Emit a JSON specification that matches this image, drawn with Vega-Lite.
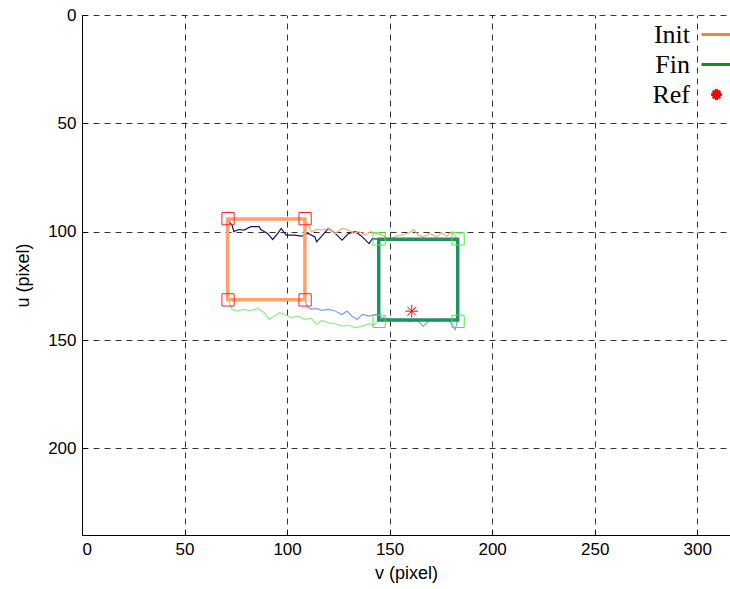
{
  "$schema": "https://vega.github.io/schema/vega-lite/v6.json",
  "width": 648,
  "height": 520,
  "autosize": {"type": "none"},
  "padding": {"left": 82, "top": 15, "right": 0, "bottom": 54},
  "background": "white",
  "config": {
    "view": {"stroke": null},
    "axis": {
      "domainColor": "black", "domainWidth": 1,
      "tickColor": "black", "tickSize": -5, "tickWidth": 1,
      "gridColor": "black", "gridDash": [6, 5], "gridWidth": 0.8, "gridOpacity": 1,
      "labelFont": "Liberation Sans", "labelFontSize": 17, "labelColor": "black",
      "titleFont": "Liberation Sans", "titleFontSize": 18, "titleFontWeight": "normal", "titleColor": "black"
    }
  },
  "datasets": {
    "traj": [
      {"s": "a", "i": 0, "v": 71.2, "u": 94.3},
      {"s": "a", "i": 1, "v": 71.6, "u": 95.4},
      {"s": "a", "i": 2, "v": 73.2, "u": 96.9},
      {"s": "a", "i": 3, "v": 74.0, "u": 100.0},
      {"s": "a", "i": 4, "v": 76.5, "u": 99.0},
      {"s": "a", "i": 5, "v": 79.0, "u": 99.3},
      {"s": "a", "i": 6, "v": 82.3, "u": 97.7},
      {"s": "a", "i": 7, "v": 86.4, "u": 97.7},
      {"s": "a", "i": 8, "v": 87.2, "u": 99.0},
      {"s": "a", "i": 9, "v": 90.5, "u": 100.8},
      {"s": "a", "i": 10, "v": 93.0, "u": 103.6},
      {"s": "a", "i": 11, "v": 95.5, "u": 100.8},
      {"s": "a", "i": 12, "v": 97.1, "u": 98.5},
      {"s": "a", "i": 13, "v": 99.6, "u": 101.6},
      {"s": "a", "i": 14, "v": 103.7, "u": 101.6},
      {"s": "a", "i": 15, "v": 107.0, "u": 102.1},
      {"s": "a", "i": 16, "v": 110.3, "u": 100.8},
      {"s": "a", "i": 17, "v": 113.6, "u": 102.4},
      {"s": "a", "i": 18, "v": 114.4, "u": 104.7},
      {"s": "a", "i": 19, "v": 116.9, "u": 102.1},
      {"s": "a", "i": 20, "v": 120.2, "u": 98.5},
      {"s": "a", "i": 21, "v": 123.5, "u": 100.8},
      {"s": "a", "i": 22, "v": 126.8, "u": 103.9},
      {"s": "a", "i": 23, "v": 130.1, "u": 100.8},
      {"s": "a", "i": 24, "v": 133.4, "u": 100.0},
      {"s": "a", "i": 25, "v": 136.7, "u": 102.4},
      {"s": "a", "i": 26, "v": 140.0, "u": 105.5},
      {"s": "a", "i": 27, "v": 141.6, "u": 103.2},
      {"s": "a", "i": 28, "v": 144.7, "u": 103.5},

      {"s": "b", "i": 0, "v": 108.7, "u": 94.2},
      {"s": "b", "i": 1, "v": 110.3, "u": 96.9},
      {"s": "b", "i": 2, "v": 111.9, "u": 100.0},
      {"s": "b", "i": 3, "v": 114.4, "u": 98.9},
      {"s": "b", "i": 4, "v": 116.9, "u": 99.3},
      {"s": "b", "i": 5, "v": 120.2, "u": 98.5},
      {"s": "b", "i": 6, "v": 123.5, "u": 100.8},
      {"s": "b", "i": 7, "v": 126.8, "u": 98.5},
      {"s": "b", "i": 8, "v": 130.1, "u": 99.3},
      {"s": "b", "i": 9, "v": 132.5, "u": 100.8},
      {"s": "b", "i": 10, "v": 135.0, "u": 100.0},
      {"s": "b", "i": 11, "v": 138.3, "u": 101.6},
      {"s": "b", "i": 12, "v": 140.8, "u": 100.0},
      {"s": "b", "i": 13, "v": 143.3, "u": 100.8},
      {"s": "b", "i": 14, "v": 146.6, "u": 101.6},
      {"s": "b", "i": 15, "v": 149.9, "u": 103.6},
      {"s": "b", "i": 16, "v": 153.2, "u": 102.1},
      {"s": "b", "i": 17, "v": 156.4, "u": 101.3},
      {"s": "b", "i": 18, "v": 159.7, "u": 100.5},
      {"s": "b", "i": 19, "v": 161.7, "u": 98.9},
      {"s": "b", "i": 20, "v": 163.9, "u": 101.6},
      {"s": "b", "i": 21, "v": 166.3, "u": 102.4},
      {"s": "b", "i": 22, "v": 169.6, "u": 100.8},
      {"s": "b", "i": 23, "v": 172.9, "u": 102.4},
      {"s": "b", "i": 24, "v": 175.4, "u": 100.5},
      {"s": "b", "i": 25, "v": 177.9, "u": 102.1},
      {"s": "b", "i": 26, "v": 180.3, "u": 100.0},
      {"s": "b", "i": 27, "v": 183.2, "u": 103.5},

      {"s": "c", "i": 0, "v": 71.2, "u": 131.4},
      {"s": "c", "i": 1, "v": 71.6, "u": 131.9},
      {"s": "c", "i": 2, "v": 73.2, "u": 135.9},
      {"s": "c", "i": 3, "v": 75.7, "u": 136.6},
      {"s": "c", "i": 4, "v": 79.0, "u": 135.9},
      {"s": "c", "i": 5, "v": 82.3, "u": 136.6},
      {"s": "c", "i": 6, "v": 85.6, "u": 135.4},
      {"s": "c", "i": 7, "v": 88.9, "u": 137.4},
      {"s": "c", "i": 8, "v": 91.3, "u": 140.5},
      {"s": "c", "i": 9, "v": 93.8, "u": 139.0},
      {"s": "c", "i": 10, "v": 96.3, "u": 137.4},
      {"s": "c", "i": 11, "v": 98.8, "u": 138.2},
      {"s": "c", "i": 12, "v": 102.1, "u": 139.7},
      {"s": "c", "i": 13, "v": 105.4, "u": 139.0},
      {"s": "c", "i": 14, "v": 108.7, "u": 140.5},
      {"s": "c", "i": 15, "v": 111.9, "u": 140.0},
      {"s": "c", "i": 16, "v": 114.4, "u": 142.9},
      {"s": "c", "i": 17, "v": 116.9, "u": 141.0},
      {"s": "c", "i": 18, "v": 120.2, "u": 142.1},
      {"s": "c", "i": 19, "v": 123.5, "u": 142.5},
      {"s": "c", "i": 20, "v": 126.8, "u": 143.6},
      {"s": "c", "i": 21, "v": 130.1, "u": 143.2},
      {"s": "c", "i": 22, "v": 133.4, "u": 144.4},
      {"s": "c", "i": 23, "v": 136.7, "u": 143.6},
      {"s": "c", "i": 24, "v": 140.0, "u": 142.5},
      {"s": "c", "i": 25, "v": 142.4, "u": 143.2},
      {"s": "c", "i": 26, "v": 144.7, "u": 140.8},

      {"s": "d", "i": 0, "v": 108.7, "u": 131.4},
      {"s": "d", "i": 1, "v": 110.0, "u": 134.8},
      {"s": "d", "i": 2, "v": 111.9, "u": 135.9},
      {"s": "d", "i": 3, "v": 114.4, "u": 135.4},
      {"s": "d", "i": 4, "v": 116.9, "u": 136.3},
      {"s": "d", "i": 5, "v": 120.2, "u": 135.9},
      {"s": "d", "i": 6, "v": 123.5, "u": 136.6},
      {"s": "d", "i": 7, "v": 126.8, "u": 138.2},
      {"s": "d", "i": 8, "v": 129.2, "u": 136.6},
      {"s": "d", "i": 9, "v": 131.7, "u": 139.0},
      {"s": "d", "i": 10, "v": 134.2, "u": 140.5},
      {"s": "d", "i": 11, "v": 136.7, "u": 138.2},
      {"s": "d", "i": 12, "v": 140.0, "u": 139.0},
      {"s": "d", "i": 13, "v": 143.3, "u": 138.2},
      {"s": "d", "i": 14, "v": 146.6, "u": 139.7},
      {"s": "d", "i": 15, "v": 149.9, "u": 140.5},
      {"s": "d", "i": 16, "v": 153.2, "u": 141.3},
      {"s": "d", "i": 17, "v": 156.4, "u": 140.5},
      {"s": "d", "i": 18, "v": 159.7, "u": 141.6},
      {"s": "d", "i": 19, "v": 163.0, "u": 140.5},
      {"s": "d", "i": 20, "v": 166.3, "u": 143.6},
      {"s": "d", "i": 21, "v": 169.6, "u": 141.0},
      {"s": "d", "i": 22, "v": 172.9, "u": 141.3},
      {"s": "d", "i": 23, "v": 176.2, "u": 140.5},
      {"s": "d", "i": 24, "v": 179.5, "u": 141.6},
      {"s": "d", "i": 25, "v": 182.0, "u": 145.2},
      {"s": "d", "i": 26, "v": 183.2, "u": 140.8}
    ],
    "boxes": [
      {"box": "Init", "i": 0, "v": 71.0, "u": 94.2},
      {"box": "Init", "i": 1, "v": 108.7, "u": 94.2},
      {"box": "Init", "i": 2, "v": 108.7, "u": 131.4},
      {"box": "Init", "i": 3, "v": 71.0, "u": 131.4},
      {"box": "Init", "i": 4, "v": 71.0, "u": 94.2},
      {"box": "Fin", "i": 0, "v": 144.7, "u": 103.5},
      {"box": "Fin", "i": 1, "v": 183.2, "u": 103.5},
      {"box": "Fin", "i": 2, "v": 183.2, "u": 140.8},
      {"box": "Fin", "i": 3, "v": 144.7, "u": 140.8},
      {"box": "Fin", "i": 4, "v": 144.7, "u": 103.5}
    ],
    "corners": [
      {"set": "Init", "v": 71.2, "u": 94.0},
      {"set": "Init", "v": 108.8, "u": 94.0},
      {"set": "Init", "v": 71.2, "u": 131.5},
      {"set": "Init", "v": 108.8, "u": 131.5},
      {"set": "Fin", "v": 144.9, "u": 103.3},
      {"set": "Fin", "v": 183.4, "u": 103.3},
      {"set": "Fin", "v": 144.9, "u": 141.4},
      {"set": "Fin", "v": 183.4, "u": 141.4}
    ],
    "ref": [
      {"item": "Ref", "v": 160.8, "u": 136.7}
    ]
  },
  "encoding": {
    "x": {"field": "v", "type": "quantitative",
      "scale": {"domain": [0, 316], "nice": false, "zero": false},
      "axis": {"title": "v (pixel)", "values": [0, 50, 100, 150, 200, 250, 300], "labelPadding": 11, "titlePadding": 7}},
    "y": {"field": "u", "type": "quantitative",
      "scale": {"domain": [0, 240], "nice": false, "reverse": true},
      "axis": {"title": "u (pixel)", "values": [0, 50, 100, 150, 200], "labelPadding": 11, "titlePadding": 15}}
  },
  "layer": [
    {
      "data": {"name": "traj"},
      "mark": {"type": "line", "strokeWidth": 1.2},
      "encoding": {
        "color": {"field": "s", "type": "nominal",
          "scale": {"domain": ["a", "b", "c", "d"], "range": ["#141464", "#ffa877", "#88ee88", "#7a9cff"]},
          "legend": null},
        "order": {"field": "i", "type": "quantitative"}
      }
    },
    {
      "data": {"name": "boxes"},
      "mark": {"type": "line", "strokeWidth": 3.5, "strokeJoin": "miter", "strokeCap": "square"},
      "encoding": {
        "color": {"field": "box", "type": "nominal",
          "scale": {"domain": ["Init", "Fin"], "range": ["#ffa070", "#23905f"]},
          "legend": null},
        "order": {"field": "i", "type": "quantitative"}
      }
    },
    {
      "data": {"name": "corners"},
      "mark": {"type": "point", "shape": "square", "filled": false, "size": 150, "strokeWidth": 1, "opacity": 1},
      "encoding": {
        "color": {"field": "set", "type": "nominal",
          "scale": {"domain": ["Init", "Fin"], "range": ["#ff2020", "#40f040"]},
          "legend": null}
      }
    },
    {
      "data": {"name": "ref"},
      "mark": {"type": "point", "filled": false, "size": 1250, "strokeWidth": 1, "opacity": 1},
      "encoding": {
        "color": {"field": "item", "type": "nominal",
          "scale": {"domain": ["Init", "Fin", "Ref"], "range": ["#ff7f27", "#1a8c1a", "#ff0000"]},
          "legend": {"title": null, "orient": "none", "legendX": 618, "legendY": 3, "padding": 0,
            "symbolSize": 900, "symbolStrokeWidth": 3, "symbolOpacity": 1, "rowPadding": 0,
            "labelFont": "Liberation Serif", "labelFontSize": 26, "labelColor": "black",
            "labelAlign": "right", "labelOffset": -43, "labelBaseline": "middle", "labelLimit": 0}},
        "shape": {"field": "item", "type": "nominal",
          "scale": {"domain": ["Init", "Fin", "Ref"], "range": ["stroke", "stroke", "M-0.36,0L0.36,0M0,-0.36L0,0.36M-0.25,-0.25L0.25,0.25M-0.25,0.25L0.25,-0.25"]},
          "legend": {"title": null, "orient": "none", "legendX": 618, "legendY": 3, "padding": 0,
            "symbolSize": 900, "symbolStrokeWidth": 3, "symbolOpacity": 1, "rowPadding": 0,
            "labelFont": "Liberation Serif", "labelFontSize": 26, "labelColor": "black",
            "labelAlign": "right", "labelOffset": -43, "labelBaseline": "middle", "labelLimit": 0}}
      }
    },
    {
      "mark": {"type": "rule", "color": "black", "strokeWidth": 1},
      "encoding": {"y": {"datum": 0}, "x": null}
    }
  ],
  "resolve": {"scale": {"color": "independent", "shape": "independent"}}
}
